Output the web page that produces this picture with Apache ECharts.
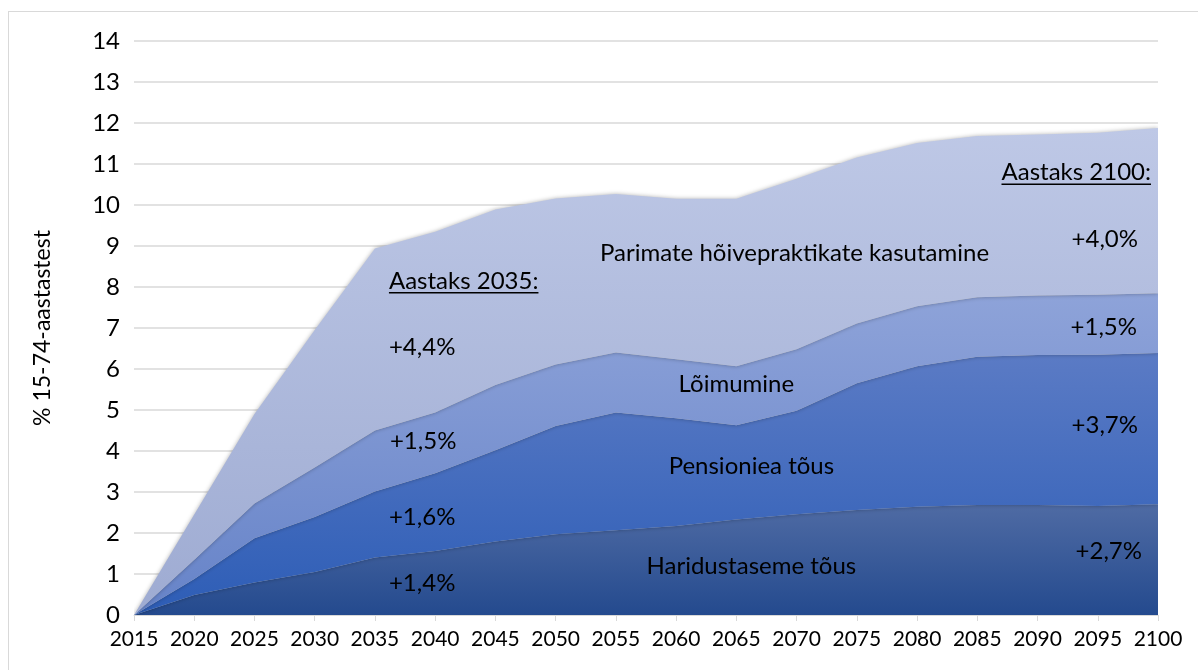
<!DOCTYPE html>
<html>
<head>
<meta charset="utf-8">
<title>Hõive kasv</title>
<script src="https://cdn.jsdelivr.net/npm/echarts@6/dist/echarts.min.js"></script>
<style>
html, body { margin: 0; padding: 0; background: #fff; overflow: hidden; }
.frame { position: absolute; left: 8px; top: 11px; width: 1300px; height: 800px; border: 1px solid #d9d9d9; }
#chart { position: absolute; left: 0; top: 0; width: 1198px; height: 670px; }
</style>
</head>
<body>
<div class="frame"></div>
<div id="chart"></div>
<script>
// aastad
const years = ["2015", "2020", "2025", "2030", "2035", "2040", "2045", "2050", "2055",
    "2060", "2065", "2070", "2075", "2080", "2085", "2090", "2095", "2100"];
// kihid alt üles (protsendipunktid)
const haridus = [0, 0.49, 0.79, 1.05, 1.40, 1.56, 1.79, 1.97, 2.07, 2.17, 2.33, 2.46, 2.56, 2.64, 2.68, 2.68, 2.66, 2.70];
const pension = [0, 0.39, 1.08, 1.34, 1.61, 1.90, 2.23, 2.64, 2.87, 2.63, 2.30, 2.52, 3.09, 3.43, 3.62, 3.66, 3.69, 3.69];
const loimumine = [0, 0.47, 0.85, 1.21, 1.49, 1.48, 1.59, 1.50, 1.46, 1.44, 1.44, 1.50, 1.46, 1.46, 1.45, 1.45, 1.46, 1.46];
const parimad = [0, 1.10, 2.18, 3.35, 4.44, 4.41, 4.28, 4.05, 3.87, 3.91, 4.08, 4.16, 4.05, 3.98, 3.93, 3.93, 3.95, 4.03];
const yTicks = [0, 14, 1];

const FONT = "Lato";
const W = 1198, H = 670;
const GRID = { left: 134, right: 40, top: 41, bottom: 55 };

function grad(top, bottom) {
    return new echarts.graphic.LinearGradient(0, 0, 0, 1, [
        { offset: 0, color: top },
        { offset: 1, color: bottom },
    ]);
}
function layer(name, data, top, bottom) {
    return {
        name: name,
        type: "line",
        stack: "kokku",
        data: data,
        symbol: "none",
        lineStyle: { width: 0 },
        areaStyle: {
            color: grad(top, bottom),
            opacity: 1,
            shadowColor: "rgba(0,0,0,0.3)",
            shadowBlur: 4,
        },
    };
}

// tekstide asukoht: aasta + väärtus -> piksel (sama skaala mis teljel)
function at(year, value, dx) {
    const x0 = GRID.left, x1 = W - GRID.right;
    const y0 = H - GRID.bottom, y1 = GRID.top;
    const i = years.indexOf(year);
    const x = x0 + i * (x1 - x0) / (years.length - 1);
    const y = y0 - (value - yTicks[0]) * (y0 - y1) / (yTicks[1] - yTicks[0]);
    return [x + (dx || 0), y];
}
const ctx = document.createElement("canvas").getContext("2d");
function txt(str, pos, align, underline) {
    const size = 24;
    const out = [{
        type: "text",
        x: pos[0],
        y: pos[1],
        z: 100,
        style: { text: str, fill: "#000", font: size + "px " + FONT, align: align, verticalAlign: "middle" },
    }];
    if (underline) {
        ctx.font = size + "px " + FONT;
        const w = ctx.measureText(str).width;
        const xs = align === "right" ? pos[0] - w : pos[0];
        out.push({
            type: "line",
            z: 100,
            shape: { x1: xs, y1: pos[1] + 12, x2: xs + w, y2: pos[1] + 12 },
            style: { stroke: "#000", lineWidth: 1.5 },
        });
    }
    return out;
}

const notes = [].concat(
    txt("Aastaks 2035:", at("2035", 8.15, 14), "left", true),
    txt("+4,4%", at("2035", 6.54, 14), "left"),
    txt("+1,5%", at("2035", 4.24, 15), "left"),
    txt("+1,6%", at("2035", 2.39, 14), "left"),
    txt("+1,4%", at("2035", 0.78, 14), "left"),
    txt("Parimate hõivepraktikate kasutamine", at("2070", 8.83, -2), "center"),
    txt("Lõimumine", at("2065", 5.63, 0), "center"),
    txt("Pensioniea tõus", at("2065", 3.63, 15), "center"),
    txt("Haridustaseme tõus", at("2065", 1.2, 15), "center"),
    txt("Aastaks 2100:", at("2100", 10.8, -7), "right", true),
    txt("+4,0%", at("2100", 9.17, -20), "right"),
    txt("+1,5%", at("2100", 7.02, -21), "right"),
    txt("+3,7%", at("2100", 4.63, -20), "right"),
    txt("+2,7%", at("2100", 1.56, -16), "right")
);

const chart = echarts.init(document.getElementById("chart"));
chart.setOption({
    animation: false,
    grid: GRID,
    xAxis: {
        type: "category",
        data: years,
        boundaryGap: false,
        axisLine: { lineStyle: { color: "#d9d9d9", width: 1 } },
        axisTick: { show: true, length: 6, interval: 0, lineStyle: { color: "#d9d9d9" } },
        axisLabel: { color: "#000", fontFamily: FONT, fontSize: 21, margin: 14, interval: 0 },
    },
    yAxis: {
        type: "value",
        min: yTicks[0],
        max: yTicks[1],
        interval: yTicks[2],
        name: "% 15-74-aastastest",
        nameLocation: "middle",
        nameGap: 80,
        nameTextStyle: { color: "#000", fontFamily: FONT, fontSize: 23 },
        axisLine: { show: false },
        axisTick: { show: false },
        axisLabel: { color: "#000", fontFamily: FONT, fontSize: 24, margin: 14 },
        splitLine: { lineStyle: { color: "#d9d9d9", width: 1.5 } },
    },
    series: [
        layer("Haridustaseme tõus", haridus, "#4f6ba4", "#244a8e"),
        layer("Pensioniea tõus", pension, "#5b7bc5", "#2d5db6"),
        layer("Lõimumine", loimumine, "#8ea3d9", "#6683c8"),
        layer("Parimate hõivepraktikate kasutamine", parimad, "#bec8e6", "#9eabd2"),
    ],
    graphic: { elements: notes },
});
</script>
</body>
</html>
